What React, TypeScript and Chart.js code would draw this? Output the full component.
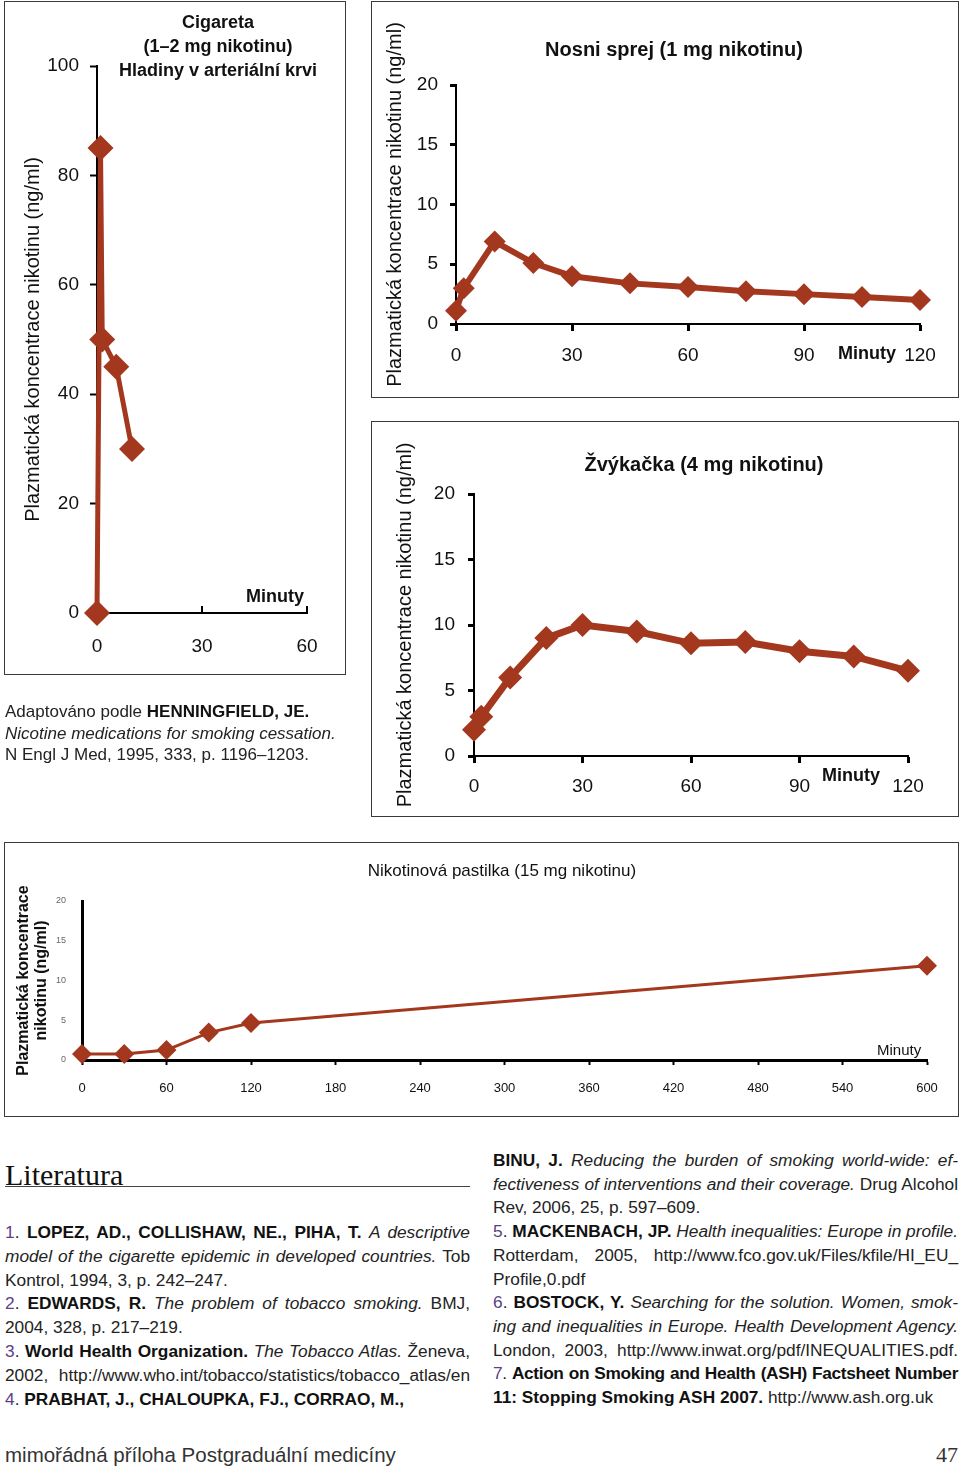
import React, { useEffect, useRef } from "react";
import { Chart, registerables } from "chart.js";

Chart.register(...registerables);

// ---------------- data ----------------
const cigTitleLines = ["Cigareta", "(1–2 mg nikotinu)", "Hladiny v arteriální krvi"];
const cigMinutes = [0, 1, 1.5, 5.5, 10];
const cigConc = [0, 85, 50, 45, 30];
const cigXTicks = [0, 30, 60];
const cigYTicks = [0, 20, 40, 60, 80, 100];

const sprayTitle = "Nosni sprej (1 mg nikotinu)";
const sprayMinutes = [0, 2, 10, 20, 30, 45, 60, 75, 90, 105, 120];
const sprayConc = [1.1, 3.0, 6.9, 5.1, 4.0, 3.4, 3.1, 2.75, 2.5, 2.25, 2.0];

const gumTitle = "Žvýkačka (4 mg nikotinu)";
const gumMinutes = [0, 2, 10, 20, 30, 45, 60, 75, 90, 105, 120];
const gumConc = [2.0, 3.0, 6.0, 9.0, 10.0, 9.5, 8.6, 8.7, 8.0, 7.6, 6.5];

const twoHourTicks = [0, 30, 60, 90, 120];
const twentyTicks = [0, 5, 10, 15, 20];

const lozTitle = "Nikotinová pastilka (15 mg nikotinu)";
const lozMinutes = [0, 30, 60, 90, 120, 600];
const lozConc = [0.75, 0.75, 1.25, 3.45, 4.65, 11.85];
const lozXTicks = [0, 60, 120, 180, 240, 300, 360, 420, 480, 540, 600];
const lozYTicks = [0, 5, 10, 15, 20];

const yAxisTitle = "Plazmatická koncentrace nikotinu (ng/ml)";
const yAxisTitleTwoLines = ["Plazmatická koncentrace", "nikotinu (ng/ml)"];
const xAxisName = "Minuty";

// ---------------- styles ----------------
const RED = "#a4381f";
const FONT = "'Liberation Sans', Arial, Helvetica, sans-serif";
const SERIF = "'Liberation Serif', 'Times New Roman', serif";
const PURPLE = "#5b3f86";
const TEXT = "#232323";

const inwardTicks = {
  id: "inwardTicks",
  beforeDatasetsDraw(chart: any, _args: any, opts: any) {
    if (!opts || !opts.len) return;
    const x = chart.scales.x;
    const ctx = chart.ctx;
    ctx.save();
    ctx.strokeStyle = "#000";
    ctx.lineWidth = 2;
    x.ticks.forEach((t: any) => {
      if (t.value === 0) return;
      const px = Math.round(x.getPixelForValue(t.value));
      ctx.beginPath();
      ctx.moveTo(px, x.top);
      ctx.lineTo(px, x.top - opts.len);
      ctx.stroke();
    });
    ctx.restore();
  },
};

type Spec = any;

const specs: Spec[] = [
  {
    id: "cig",
    box: { x: 4, y: 1, w: 342, h: 674 },
    plot: { l: 97, t: 66, r: 307, b: 613 },
    xs: cigMinutes, ys: cigConc, xMax: 60, yMax: 100, xTicks: cigXTicks, yTicks: cigYTicks,
    yTitle: yAxisTitle, yTitleSize: 20, yTitleLH: 24, yTitleWeight: "normal", yTitleCenterX: 33,
    tickSize: 19, yTickSize: 19, yLabelRight: 79, xLabelCenterY: 647,
    lineWidth: 5, pointRadius: 13, axisWidth: 2, tickWidth: 2, yTickLen: 7, xTickLen: 0, inwardX: 7,
  },
  {
    id: "spray",
    box: { x: 371, y: 1, w: 588, h: 397 },
    plot: { l: 456, t: 85, r: 920, b: 324 },
    xs: sprayMinutes, ys: sprayConc, xMax: 120, yMax: 20, xTicks: twoHourTicks, yTicks: twentyTicks,
    yTitle: yAxisTitle, yTitleSize: 20, yTitleLH: 24, yTitleWeight: "normal", yTitleCenterX: 395,
    tickSize: 19, yTickSize: 19, yLabelRight: 438, xLabelCenterY: 356,
    lineWidth: 6, pointRadius: 11, axisWidth: 2, tickWidth: 3, yTickLen: 6, xTickLen: 7, inwardX: 0,
  },
  {
    id: "gum",
    box: { x: 371, y: 421, w: 588, h: 396 },
    plot: { l: 474, t: 494, r: 908, b: 756 },
    xs: gumMinutes, ys: gumConc, xMax: 120, yMax: 20, xTicks: twoHourTicks, yTicks: twentyTicks,
    yTitle: yAxisTitle, yTitleSize: 20, yTitleLH: 24, yTitleWeight: "normal", yTitleCenterX: 405,
    tickSize: 19, yTickSize: 19, yLabelRight: 455, xLabelCenterY: 787,
    lineWidth: 7, pointRadius: 12, axisWidth: 2, tickWidth: 3, yTickLen: 6, xTickLen: 7, inwardX: 0,
  },
  {
    id: "loz",
    box: { x: 4, y: 842, w: 955, h: 275 },
    plot: { l: 82, t: 901, r: 927, b: 1060 },
    xs: lozMinutes, ys: lozConc, xMax: 600, yMax: 20, xTicks: lozXTicks, yTicks: lozYTicks,
    yTitle: yAxisTitleTwoLines, yTitleSize: 16, yTitleLH: 18, yTitleWeight: "bold", yTitleCenterX: 24,
    tickSize: 13, yTickSize: 9, yLabelRight: 66, xLabelCenterY: 1088,
    lineWidth: 3, pointRadius: 10, axisWidth: 3, tickWidth: 2, yTickLen: 0, xTickLen: 5, inwardX: 0,
  },
];

function NicotineChart({ s }: { s: Spec }) {
  const ref = useRef<HTMLCanvasElement | null>(null);
  useEffect(() => {
    const bx = s.box.x, by = s.box.y;
    const cl = s.plot.l - bx, ct = s.plot.t - by, cr = s.plot.r - bx, cb = s.plot.b - by;
    const padLeft = 2;
    const titlePad = s.yTitleCenterX - bx - padLeft - s.yTitleLH / 2;
    const yTickPad = cl - s.yTickLen - (s.yLabelRight - bx);
    const xH = s.box.h - cb;
    const xTickPad = s.xLabelCenterY - by - cb - s.xTickLen - (s.tickSize * 1.2) / 2;
    const chart = new Chart(ref.current as HTMLCanvasElement, {
      type: "line",
      data: {
        datasets: [
          {
            data: s.xs.map((x: number, i: number) => ({ x, y: s.ys[i] })),
            borderColor: RED,
            backgroundColor: RED,
            borderWidth: s.lineWidth,
            pointStyle: "rectRot",
            pointRadius: s.pointRadius,
            pointHoverRadius: s.pointRadius,
            pointBackgroundColor: RED,
            pointBorderColor: RED,
            pointBorderWidth: 0,
            tension: 0,
            clip: false,
          } as any,
        ],
      },
      options: {
        responsive: false,
        animation: false,
        events: [],
        layout: { padding: { left: padLeft, top: ct, right: s.box.w - cr, bottom: 0 } },
        plugins: {
          legend: { display: false },
          tooltip: { enabled: false },
          inwardTicks: { len: s.inwardX },
        } as any,
        scales: {
          x: {
            type: "linear",
            min: 0,
            max: s.xMax,
            afterBuildTicks: (sc: any) => {
              sc.ticks = s.xTicks.map((v: number) => ({ value: v }));
            },
            afterFit: (sc: any) => {
              sc.height = xH;
            },
            ticks: {
              autoSkip: false,
              maxRotation: 0,
              padding: xTickPad,
              color: "#111",
              font: { family: FONT, size: s.tickSize },
            },
            grid: {
              display: true,
              drawOnChartArea: false,
              drawTicks: s.xTickLen > 0,
              tickLength: s.xTickLen,
              tickWidth: s.tickWidth,
              tickColor: "#000",
            },
            border: { display: true, color: "#000", width: s.axisWidth },
          },
          y: {
            type: "linear",
            min: 0,
            max: s.yMax,
            afterBuildTicks: (sc: any) => {
              sc.ticks = s.yTicks.map((v: number) => ({ value: v }));
            },
            afterFit: (sc: any) => {
              sc.width = cl - padLeft;
            },
            ticks: {
              autoSkip: false,
              padding: yTickPad,
              color: s.yTickSize < 12 ? "#666" : "#111",
              font: { family: FONT, size: s.yTickSize },
            },
            grid: {
              display: true,
              drawOnChartArea: false,
              drawTicks: s.yTickLen > 0,
              tickLength: s.yTickLen,
              tickWidth: s.tickWidth,
              tickColor: "#000",
            },
            border: { display: true, color: "#000", width: s.axisWidth },
            title: {
              display: true,
              text: s.yTitle,
              color: "#111",
              font: {
                family: FONT,
                size: s.yTitleSize,
                weight: s.yTitleWeight,
                lineHeight: s.yTitleLH / s.yTitleSize,
              },
              padding: { top: titlePad, bottom: 0 },
            },
          },
        } as any,
      },
      plugins: [inwardTicks as any],
    });
    return () => chart.destroy();
  }, [s]);
  return (
    <>
      <canvas
        ref={ref}
        width={s.box.w}
        height={s.box.h}
        style={{ position: "absolute", left: s.box.x, top: s.box.y, width: s.box.w, height: s.box.h }}
      />
      <div
        style={{
          position: "absolute",
          left: s.box.x,
          top: s.box.y,
          width: s.box.w,
          height: s.box.h,
          border: "1px solid #3a3a3a",
          boxSizing: "border-box",
          pointerEvents: "none",
        }}
      />
    </>
  );
}

function Label({ x, y, w, align, size, weight, lh, children, family }: any) {
  return (
    <div
      style={{
        position: "absolute",
        left: x,
        top: y,
        width: w,
        textAlign: align || "left",
        fontFamily: family || FONT,
        fontSize: size,
        fontWeight: weight || "normal",
        lineHeight: lh + "px",
        color: "#111",
        whiteSpace: "nowrap",
      }}
    >
      {children}
    </div>
  );
}

const N = ({ children }: any) => <span style={{ color: PURPLE }}>{children}</span>;
const B = ({ children }: any) => <span style={{ fontWeight: 700, color: "#111" }}>{children}</span>;
const I = ({ children }: any) => <span style={{ fontStyle: "italic" }}>{children}</span>;

function TextLine({ x, y, j, ls, children }: any) {
  return (
    <div
      style={{
        position: "absolute",
        left: x,
        top: y,
        width: 465,
        whiteSpace: "nowrap",
        textAlign: j ? "justify" : "left",
        textAlignLast: j ? "justify" : "left",
        fontFamily: FONT,
        fontSize: 17.3,
        letterSpacing: ls || 0,
        lineHeight: "23.8px",
        color: TEXT,
      } as any}
    >
      {children}
    </div>
  );
}

const leftLines = [
  { j: true, c: <><N>1</N>. <B>LOPEZ, AD., COLLISHAW, NE., PIHA, T.</B> <I>A descriptive</I></> },
  { j: true, c: <><I>model of the cigarette epidemic in developed countries.</I> Tob</> },
  { j: false, c: <>Kontrol, 1994, 3, p. 242–247.</> },
  { j: true, c: <><N>2</N>. <B>EDWARDS, R.</B> <I>The problem of tobacco smoking.</I> BMJ,</> },
  { j: false, c: <>2004, 328, p. 217–219.</> },
  { j: true, c: <><N>3</N>. <B>World Health Organization.</B> <I>The Tobacco Atlas.</I> Ženeva,</> },
  { j: true, c: <>2002, http://www.who.int/tobacco/statistics/tobacco_atlas/en</> },
  { j: false, c: <><N>4</N>. <B>PRABHAT, J., CHALOUPKA, FJ., CORRAO, M.,</B></> },
];

const rightLines = [
  { j: true, c: <><B>BINU, J.</B> <I>Reducing the burden of smoking world-wide: ef-</I></> },
  { j: true, c: <><I>fectiveness of interventions and their coverage.</I> Drug Alcohol</> },
  { j: false, c: <>Rev, 2006, 25, p. 597–609.</> },
  { j: true, c: <><N>5</N>. <B>MACKENBACH, JP.</B> <I>Health inequalities: Europe in profile.</I></> },
  { j: true, c: <>Rotterdam, 2005, http://www.fco.gov.uk/Files/kfile/HI_EU_</> },
  { j: false, c: <>Profile,0.pdf</> },
  { j: true, c: <><N>6</N>. <B>BOSTOCK, Y.</B> <I>Searching for the solution. Women, smok-</I></> },
  { j: true, c: <><I>ing and inequalities in Europe. Health Development Agency.</I></> },
  { j: true, c: <>London, 2003, http://www.inwat.org/pdf/INEQUALITIES.pdf.</> },
  { j: true, ls: -0.35, c: <><N>7</N>. <B>Action on Smoking and Health (ASH) Factsheet Number</B></> },
  { j: false, c: <><B>11: Stopping Smoking ASH 2007.</B> http://www.ash.org.uk</> },
];

export default function App() {
  return (
    <div
      style={{
        position: "absolute",
        left: 0,
        top: 0,
        width: 960,
        height: 1467,
        background: "#fff",
        overflow: "hidden",
        fontFamily: FONT,
      }}
    >
      {specs.map((s) => (
        <NicotineChart key={s.id} s={s} />
      ))}

      {/* chart titles */}
      <Label x={18} y={10} w={400} align="center" size={18} weight="bold" lh={24}>
        {cigTitleLines.map((t) => (
          <div key={t}>{t}</div>
        ))}
      </Label>
      <Label x={246} y={585} size={18} weight="bold" lh={22}>{xAxisName}</Label>

      <Label x={474} y={37} w={400} align="center" size={20} weight="bold" lh={24}>{sprayTitle}</Label>
      <Label x={838} y={342} size={18} weight="bold" lh={22}>{xAxisName}</Label>

      <Label x={504} y={452} w={400} align="center" size={20} weight="bold" lh={24}>{gumTitle}</Label>
      <Label x={822} y={764} size={18} weight="bold" lh={22}>{xAxisName}</Label>

      <Label x={252} y={861} w={500} align="center" size={17} lh={20}>{lozTitle}</Label>
      <Label x={877} y={1041} size={15} lh={18}>{xAxisName}</Label>

      {/* caption under the first chart */}
      <div
        style={{
          position: "absolute",
          left: 5,
          top: 701,
          fontFamily: FONT,
          fontSize: 17,
          lineHeight: "21.5px",
          color: TEXT,
          whiteSpace: "nowrap",
        }}
      >
        <div>
          Adaptováno podle <B>HENNINGFIELD, JE.</B>
        </div>
        <div>
          <I>Nicotine medications for smoking cessation.</I>
        </div>
        <div>N Engl J Med, 1995, 333, p. 1196–1203.</div>
      </div>

      {/* Literatura */}
      <div
        style={{
          position: "absolute",
          left: 5,
          top: 1157,
          fontFamily: SERIF,
          fontSize: 30,
          lineHeight: "36px",
          color: "#111",
        }}
      >
        Literatura
      </div>
      <div style={{ position: "absolute", left: 5, top: 1186, width: 465, height: 1, background: "#444" }} />

      {leftLines.map((l, i) => (
        <TextLine key={"l" + i} x={5} y={1221 + i * 23.8} j={l.j}>
          {l.c}
        </TextLine>
      ))}
      {rightLines.map((l: any, i) => (
        <TextLine key={"r" + i} x={493} y={1149 + i * 23.7} j={l.j} ls={l.ls}>
          {l.c}
        </TextLine>
      ))}

      {/* footer */}
      <div
        style={{
          position: "absolute",
          left: 5,
          top: 1443,
          fontFamily: FONT,
          fontSize: 20.5,
          lineHeight: "24px",
          color: "#333",
          whiteSpace: "nowrap",
        }}
      >
        mimořádná příloha Postgraduální medicíny
      </div>
      <div
        style={{
          position: "absolute",
          left: 858,
          top: 1443,
          width: 100,
          textAlign: "right",
          fontFamily: SERIF,
          fontSize: 22,
          lineHeight: "24px",
          color: "#333",
        }}
      >
        47
      </div>
    </div>
  );
}
